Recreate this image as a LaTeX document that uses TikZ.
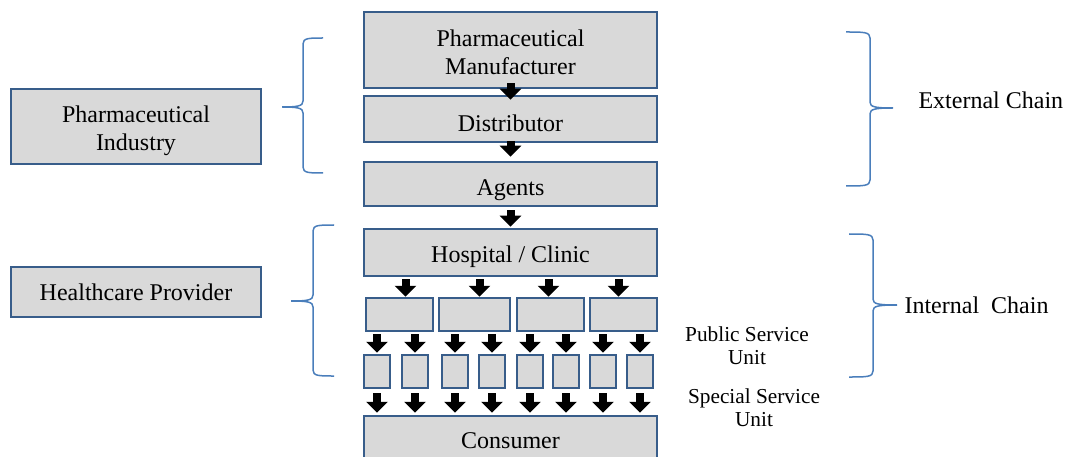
\documentclass[tikz,border=0pt]{standalone}
\usepackage{fontspec}
\setmainfont{Liberation Serif}
\usetikzlibrary{arrows.meta}
\definecolor{boxline}{HTML}{385D8A}
\definecolor{boxfill}{HTML}{D9D9D9}
\definecolor{bracecol}{HTML}{4A7EBB}
\tikzset{stage/.style={draw=boxline,fill=boxfill,line width=2.5pt,inner sep=0pt,
                       align=center,font=\fontsize{24}{28}\selectfont}}
\tikzset{flow/.style={line width=8pt,-{Triangle[length=11pt,width=21pt]},
                      shorten <=2pt,shorten >=1pt}}
\begin{document}
\begin{tikzpicture}[x=1pt,y=-1pt,
                    bracket/.style={bracecol,line width=1.5pt},
                    note/.style={font=\fontsize{24}{28}\selectfont},
                    unit/.style={font=\fontsize{21.3}{23}\selectfont,align=center}]

    \useasboundingbox (0,0) rectangle (1068,457);

    % Die Kette von oben nach unten
    \node [stage,minimum width=293pt,minimum height=76pt,text height=48.5pt] (man)  at (510.5,50)  {Pharmaceutical\\Manufacturer};
    \node [stage,minimum width=293pt,minimum height=46pt,text height=24.5pt] (dist) at (510.5,119)  {Distributor};
    \node [stage,minimum width=293pt,minimum height=44pt,text height=27.5pt] (agt)  at (510.5,184)  {Agents};
    \node [stage,minimum width=293pt,minimum height=47pt,text height=26pt]   (hosp) at (510.5,252.5) {Hospital / Clinic};
    \node [stage,minimum width=293pt,minimum height=50pt] (cons) at (510.5,441)  {Consumer};

    % Abteilungen
    \foreach \cx/\w [count=\i] in {399.5/67,474.5/71,550.5/67,623.5/67}
        \node [stage,minimum width=\w pt,minimum height=33pt] (r2-\i) at (\cx,314.5) {};

    % Einheiten
    \foreach \cx [count=\i] in {377,415,455,492,530,566,603,640}
        \node [stage,minimum width=26pt,minimum height=33pt] (r3-\i) at (\cx,371.5) {};

    % Linke Kästen
    \node [stage,minimum width=250pt,minimum height=75pt,text height=52.5pt] (ind) at (136,126.5) {Pharmaceutical\\Industry};
    \node [stage,minimum width=250pt,minimum height=50pt] (hcp) at (136,292)   {Healthcare Provider};

    % Pfeile
    \draw [flow,shorten <=-6pt,shorten >=-5pt] (man) -- (dist);
    \draw [flow,shorten <=-2pt,shorten >=4pt]  (dist) -- (agt);
    \draw [flow,shorten <=3pt,shorten >=1pt]   (agt) -- (hosp);
    \foreach \i/\dx in {1/6,2/5,3/-2,4/-5}
        \draw [flow,shorten >=0pt] ([xshift=\dx pt]r2-\i.north |- hosp.south) -- ([xshift=\dx pt]r2-\i.north);
    \foreach \i in {1,...,8} {
        \pgfmathtruncatemacro\j{(\i+1)/2}
        \draw [flow] (r3-\i.north |- r2-\j.south) -- (r3-\i.north);
        \draw [flow,shorten <=4pt,shorten >=2pt] (r3-\i.south) -- (r3-\i.south |- cons.north);
    }

    % Klammer Industrie
    \draw [bracket] (323,38) .. controls (309,38) and (303,38) .. (303,44) -- (303,101)
        .. controls (303,106) and (298,107) .. (282,107) .. controls (298,107) and (303,108) .. (303,113)
        -- (303,167) .. controls (303,173) and (309,173) .. (323,173);

    % Klammer Versorger
    \draw [bracket] (334,225) .. controls (319,225) and (313,225) .. (313,231) -- (313,295)
        .. controls (313,300) and (308,301) .. (291,301) .. controls (308,301) and (313,302) .. (313,307)
        -- (313,370) .. controls (313,376) and (319,376) .. (334,376);

    % Klammer extern
    \draw [bracket] (846,32) .. controls (864,32) and (870,32) .. (870,38) -- (870,102)
        .. controls (870,107) and (875,108) .. (893,108) .. controls (875,108) and (870,109) .. (870,114)
        -- (870,180) .. controls (870,186) and (864,186) .. (846,186);

    % Klammer intern
    \draw [bracket] (849,234) .. controls (867,234) and (873,234) .. (873,240) -- (873,299)
        .. controls (873,304) and (878,305) .. (897,305) .. controls (878,305) and (873,306) .. (873,311)
        -- (873,371) .. controls (873,377) and (867,377) .. (849,377);

    % Beschriftungen
    \node [note,anchor=west] (ext) at (915,100) {External Chain};
    \node [note,anchor=west] (int) at (901,305) {Internal~~Chain};
    \node [unit] (psu) at (747,346) {Public Service\\Unit};
    \node [unit] (ssu) at (754,408) {Special Service\\Unit};

\end{tikzpicture}
\end{document}
